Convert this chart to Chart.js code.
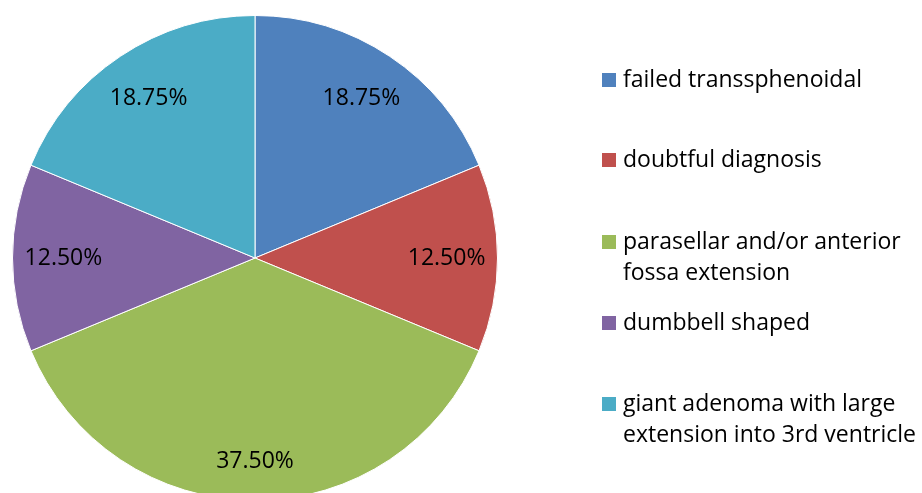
<!DOCTYPE html>
<html>
<head>
<meta charset="utf-8">
<script src="https://cdn.jsdelivr.net/npm/chart.js@4/dist/chart.umd.min.js"></script>
<style>
  html, body { margin: 0; padding: 0; background: #fff; width: 922px; height: 493px; overflow: hidden; }
  #wrap { position: absolute; left: 0; top: 0; width: 922px; height: 516px; }
  #legend { position: absolute; left: 0; top: 0; width: 922px; height: 493px; font-family: "Open Sans", sans-serif; font-size: 23px; color: #000; }
  .item { position: absolute; left: 602px; width: 330px; line-height: 31px; white-space: nowrap; }
  .sw { position: absolute; left: 0; width: 14px; height: 14px; }
  .txt { position: absolute; left: 21px; top: 0; }
</style>
</head>
<body>
<div id="wrap"><canvas id="c" width="922" height="516"></canvas></div>
<div id="legend"></div>
<script>
const categories = [
  "failed transsphenoidal",
  "doubtful diagnosis",
  "parasellar and/or anterior fossa extension",
  "dumbbell shaped",
  "giant adenoma with large extension into 3rd ventricle"
];
const legendLines = [
  ["failed transsphenoidal"],
  ["doubtful diagnosis"],
  ["parasellar and/or anterior", "fossa extension"],
  ["dumbbell shaped"],
  ["giant adenoma with large", "extension into 3rd ventricle"]
];
const values = [18.75, 12.5, 37.5, 12.5, 18.75];
const valueLabels = ["18.75%", "12.50%", "37.50%", "12.50%", "18.75%"];
const colors = ["#4F81BD", "#C0504D", "#9BBB59", "#8064A2", "#4BACC6"];

const labelPlugin = {
  id: 'sliceLabels',
  afterDatasetsDraw(chart) {
    const ctx = chart.ctx;
    const meta = chart.getDatasetMeta(0);
    const fracs = [0.79, 0.79, 0.84, 0.79, 0.79];
    ctx.save();
    ctx.font = '23px "Open Sans"';
    ctx.fillStyle = '#000';
    ctx.textAlign = 'center';
    ctx.textBaseline = 'middle';
    meta.data.forEach((arc, i) => {
      const p = arc.getProps(['x', 'y', 'startAngle', 'endAngle', 'outerRadius'], true);
      const a = (p.startAngle + p.endAngle) / 2;
      const r = p.outerRadius * fracs[i];
      ctx.fillText(valueLabels[i], p.x + Math.cos(a) * r, p.y + Math.sin(a) * r);
    });
    ctx.restore();
  }
};

new Chart(document.getElementById('c'), {
  type: 'pie',
  data: {
    labels: categories,
    datasets: [{
      data: values,
      backgroundColor: colors,
      borderColor: '#ffffff',
      borderWidth: 1
    }]
  },
  options: {
    responsive: false,
    animation: false,
    events: [],
    layout: { padding: { left: 12, top: 15, right: 424, bottom: 15 } },
    plugins: { legend: { display: false }, tooltip: { enabled: false } }
  },
  plugins: [labelPlugin]
});

// HTML legend
const legendTops = [63, 143, 225, 306, 387];
const legend = document.getElementById('legend');
legendLines.forEach((lines, i) => {
  const item = document.createElement('div');
  item.className = 'item';
  item.style.top = legendTops[i] + 'px';
  const sw = document.createElement('div');
  sw.className = 'sw';
  sw.style.background = colors[i];
  sw.style.top = '10px';
  const txt = document.createElement('div');
  txt.className = 'txt';
  txt.innerHTML = lines.map(s => s.replace(/&/g, '&amp;').replace(/</g, '&lt;')).join('<br>');
  item.appendChild(sw);
  item.appendChild(txt);
  legend.appendChild(item);
});
</script>
</body>
</html>
